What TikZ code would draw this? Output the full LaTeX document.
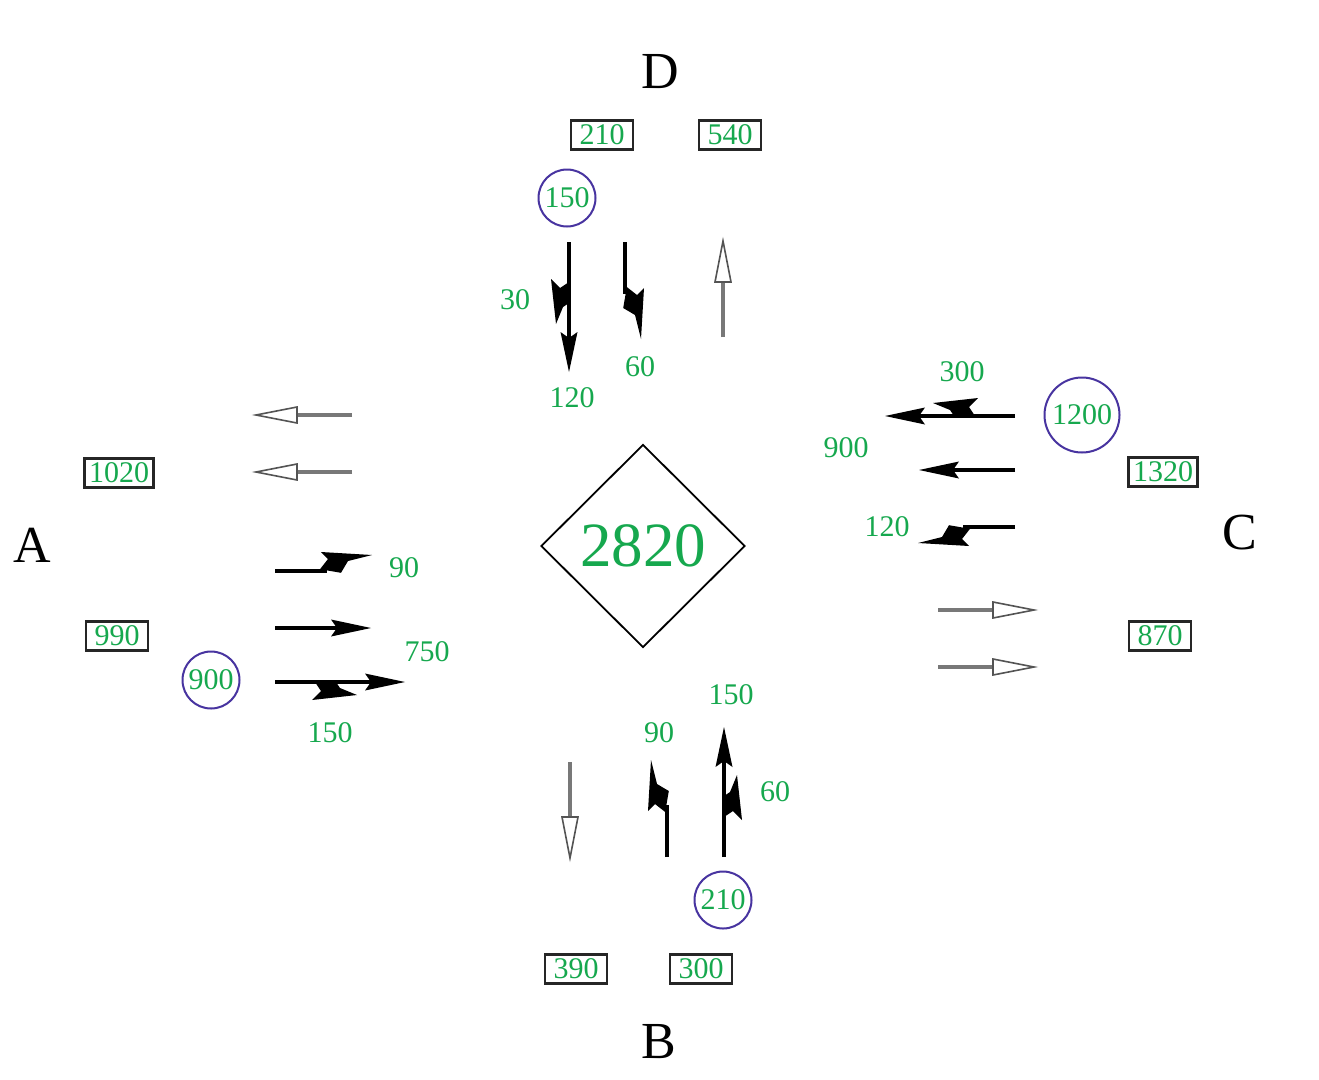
\documentclass[tikz,border=0pt]{standalone}
\usepackage{fontspec}
\setmainfont{Liberation Serif}
\usetikzlibrary{shapes.geometric}
\definecolor{numgreen}{RGB}{22,168,78}
\definecolor{ringblue}{RGB}{72,52,160}
\definecolor{lanegray}{RGB}{120,120,120}
\tikzset{
  num/.style={text=numgreen, font=\fontsize{30}{31}\selectfont, inner sep=0pt},
  boxed/.style={num, draw=black!85, line width=2.3pt, inner xsep=4.5pt, inner ysep=4.5pt, minimum width=62pt},
  ringed/.style={num, draw=ringblue, line width=2pt, circle, minimum size=57pt},
  dirlabel/.style={font=\fontsize{52}{54}\selectfont, text=black, inner sep=0pt},
  shaft/.style={line width=3.6pt, black},
  ghostshaft/.style={line width=4.2pt, lanegray},
  ghosthead/.style={line width=1.6pt, draw=lanegray!70!black, fill=white, line join=miter},
  % lane symbols, drawn heading along +x; +y is the right-hand side of travel
  through/.pic={
    \draw[shaft] (0,0) -- (62,0);
    \fill (96,0) -- (56,-8.5) -- (62,0) -- (56,8.5) -- cycle;
  },
  throughright/.pic={
    \draw[shaft] (0,0) -- (96,0);
    \fill (130,0) -- (90,-8.5) -- (96,0) -- (90,8.5) -- cycle;
    \fill (40,0) -- (61,0) -- (65,6) -- (82,13) -- (37,18) -- (46,9) -- cycle;
  },
  leftturn/.pic={
    \draw[shaft] (0,0) -- (52,0);
    \fill (45,-1.8) -- (53,-12) -- (46,-19) -- (97,-16) -- (73,-10) -- (66,1.8) -- cycle;
  },
  opposing/.pic={
    \draw[ghostshaft] (0,0) -- (58,0);
    \draw[ghosthead] (96,0) -- (55,-8) -- (55,8) -- cycle;
  }
}
\begin{document}
\begin{tikzpicture}[x=1pt, y=-1pt]
  \useasboundingbox (0,0) rectangle (1319,1079);
  \fill[white] (0,0) rectangle (1319,1079);

  % approach names
  \node[dirlabel] (lblD) at (660,72) {D};
  \node[dirlabel] (lblB) at (659,1042) {B};
  \node[dirlabel] (lblA) at (32,545) {A};
  \node[dirlabel] (lblC) at (1240,533) {C};

  % total volume
  \node[diamond, draw, line width=1.8pt, aspect=1, minimum width=204pt, minimum height=203pt,
        inner sep=0pt, text=numgreen, font=\fontsize{63}{65}\selectfont] (total) at (643,546) {2820};

  % section volumes
  \node[boxed] (dIn)  at (602,135) {210};
  \node[boxed] (dOut) at (730,135) {540};
  \node[boxed] (aOut) at (119,473) {1020};
  \node[boxed] (aIn)  at (117,636) {990};
  \node[boxed] (cOut) at (1163,472) {1320};
  \node[boxed] (cIn)  at (1160,636) {870};
  \node[boxed] (bOut) at (576,969) {390};
  \node[boxed] (bIn)  at (701,969) {300};

  % entering volumes
  \node[ringed] (dEnt) at (567,198) {150};
  \node[ringed, minimum size=75pt] (cEnt) at (1082,415) {1200};
  \node[ringed] (aEnt) at (211,680) {900};
  \node[ringed] (bEnt) at (723,900) {210};

  % turning volumes
  \node[num] (dRight)   at (515,300) {30};
  \node[num] (dLeft)    at (640,367) {60};
  \node[num] (dThrough) at (572,398) {120};
  \node[num] (cRight)   at (962,372) {300};
  \node[num] (cThrough) at (846,448) {900};
  \node[num] (cLeft)    at (887,527) {120};
  \node[num] (aLeft)    at (404,568) {90};
  \node[num] (aThrough) at (427,652) {750};
  \node[num] (aRight)   at (330,733) {150};
  \node[num] (bThrough) at (731,695) {150};
  \node[num] (bLeft)    at (659,733) {90};
  \node[num] (bRight)   at (775,792) {60};

  % approach A (eastbound)
  \pic at (275,571) {leftturn};
  \pic at (275,628) {through};
  \pic at (275,682) {throughright};
  \pic[rotate=180] at (352,415) {opposing};
  \pic[rotate=180] at (352,472) {opposing};

  % approach C (westbound)
  \pic[rotate=180] at (1015,416) {throughright};
  \pic[rotate=180] at (1015,470) {through};
  \pic[rotate=180] at (1015,527) {leftturn};
  \pic at (938,610) {opposing};
  \pic at (938,667) {opposing};

  % approach D (southbound)
  \pic[rotate=-90] at (569,242) {throughright};
  \pic[rotate=-90] at (625,242) {leftturn};
  \pic[rotate=90] at (723,337) {opposing};

  % approach B (northbound)
  \pic[rotate=90] at (667,857) {leftturn};
  \pic[rotate=90] at (724,857) {throughright};
  \pic[rotate=-90] at (570,762) {opposing};
\end{tikzpicture}
\end{document}
